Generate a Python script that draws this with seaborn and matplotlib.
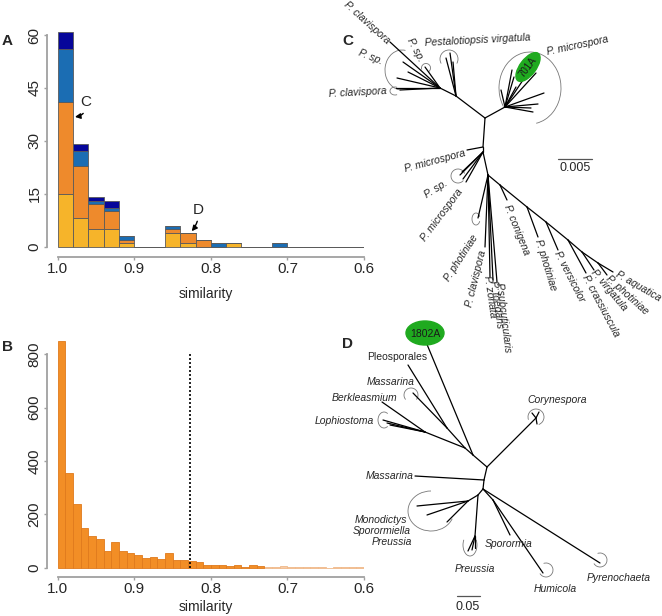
import numpy as np
import pandas as pd
import matplotlib.pyplot as plt
import seaborn as sns
from matplotlib.patches import Arc, Ellipse

sns.set_style("ticks")
plt.rcParams['font.family'] = ['Liberation Sans', 'DejaVu Sans']

# ---------------- panel A: stacked counts, 0.02 wide bins (1.00 -> 0.70)
sim_a = [0.99, 0.97, 0.95, 0.93, 0.91, 0.89, 0.87, 0.85, 0.83, 0.81, 0.79, 0.77, 0.75, 0.73, 0.71]
yellow_a = [15, 8, 5, 5, 1, 0, 0, 4, 1, 0, 0, 1, 0, 0, 0]
orange_a = [26, 15, 7, 5, 1, 0, 0, 1, 3, 2, 0, 0, 0, 0, 0]
blue_a = [15, 4, 1, 1, 1, 0, 0, 1, 0, 0, 1, 0, 0, 0, 1]
navy_a = [5, 2, 1, 2, 0, 0, 0, 0, 0, 0, 0, 0, 0, 0, 0]
edges_a = np.linspace(0.6, 1.0, 21).tolist()

# ---------------- panel B: counts, 0.01 wide bins (1.00 -> 0.60)
sim_b = [0.995, 0.985, 0.975, 0.965, 0.955, 0.945, 0.935, 0.925, 0.915, 0.905,
         0.895, 0.885, 0.875, 0.865, 0.855, 0.845, 0.835, 0.825, 0.815, 0.805,
         0.795, 0.785, 0.775, 0.765, 0.755, 0.745, 0.735, 0.725, 0.715, 0.705,
         0.695, 0.685, 0.675, 0.665, 0.655, 0.645, 0.635, 0.625, 0.615, 0.605]
count_b = [851, 355, 237, 149, 120, 109, 62, 96, 62, 55,
           47, 36, 40, 32, 55, 29, 30, 25, 22, 11,
           12, 12, 7, 9, 4, 10, 6, 2, 2, 6,
           3, 1, 2, 1, 1, 0, 1, 1, 1, 2]
edges_b = np.linspace(0.6, 1.0, 41).tolist()
cutoff_b = 0.827
faded_below = 0.73   # tail of panel B is printed in a pale tone

x_ticks = [1.0, 0.9, 0.8, 0.7, 0.6]
x_ticklabels = ['1.0', '0.9', '0.8', '0.7', '0.6']

group_colors = {'yellow': '#F6B42A', 'orange': '#EE8A2C', 'blue': '#1B6DB3', 'navy': '#06069A'}

df_a = pd.DataFrame({
    'sim': sim_a * 4,
    'count': yellow_a + orange_a + blue_a + navy_a,
    'group': ['yellow'] * 15 + ['orange'] * 15 + ['blue'] * 15 + ['navy'] * 15,
})
df_b = pd.DataFrame({'sim': sim_b, 'count': count_b})

fig = plt.figure(figsize=(6.62, 6.16), dpi=100)

# tree canvas in pixel units (drawn under the histograms)
ax_t = fig.add_axes([0, 0, 1, 1], zorder=0)
ax_t.set_xlim(0, 662)
ax_t.set_ylim(616, 0)
ax_t.axis('off')

ax_a = fig.add_axes([47 / 662, (616 - 256.7) / 616, 317 / 662, 228.7 / 616], zorder=1)
ax_b = fig.add_axes([47 / 662, (616 - 576.7) / 616, 317 / 662, 239.7 / 616], zorder=1)

sns.histplot(data=df_a, x='sim', weights='count', hue='group',
             hue_order=['navy', 'blue', 'orange', 'yellow'], palette=group_colors,
             multiple='stack', bins=edges_a, alpha=1, edgecolor='#5a5a5a',
             linewidth=0.6, legend=False, ax=ax_a)
sns.histplot(data=df_b, x='sim', weights='count', bins=edges_b, color='#F28E26',
             alpha=1, edgecolor='#E07A1C', linewidth=0.6, ax=ax_b)
for patch in ax_b.patches:
    if patch.get_x() + patch.get_width() <= faded_below + 1e-9:
        patch.set_facecolor('#F6CBA8')
        patch.set_edgecolor('#F0B888')
ax_b.vlines(cutoff_b, 0, 800, colors='black', linestyles=(0, (1.2, 1.2)), lw=1.2)

for ax, ylim, yt, lp in [(ax_a, (-2.83, 62), [0, 15, 30, 45, 60], 8),
                         (ax_b, (-33.7, 865), [0, 200, 400, 600, 800], 3)]:
    ax.set_facecolor('none')
    ax.set_xlim(1.014, 0.6)
    ax.set_ylim(*ylim)
    ax.set_xticks(x_ticks)
    ax.set_xticklabels(x_ticklabels)
    ax.set_yticks(yt)
    ax.set_yticklabels([str(v) for v in yt], rotation=90, va='center')
    ax.spines['top'].set_visible(False)
    ax.spines['right'].set_visible(False)
    for s in ['left', 'bottom']:
        ax.spines[s].set_color('#a0a0a0')
        ax.spines[s].set_linewidth(1.3)
    ax.spines['left'].set_bounds(yt[0], yt[-1])
    ax.spines['bottom'].set_bounds(0.6, 1.0)
    ax.tick_params(length=2.5, width=1, color='#a0a0a0', labelsize=11, pad=1.5)
    ax.set_xlabel('similarity', fontsize=10, labelpad=lp)
    ax.set_ylabel('')

# arrows pointing at the two example clusters
ax_a.annotate('C', xy=(0.9775, 36.8), xytext=(0.963, 41), fontsize=11,
              ha='center', va='center',
              arrowprops=dict(arrowstyle='-|>', color='black', lw=1,
                              mutation_scale=8, shrinkA=1, shrinkB=0,
                              connectionstyle='arc3,rad=-0.5'))
ax_a.annotate('D', xy=(0.825, 4.4), xytext=(0.816, 10.5), fontsize=11,
              ha='center', va='center',
              arrowprops=dict(arrowstyle='-|>', color='black', lw=1,
                              mutation_scale=8, shrinkA=1, shrinkB=0,
                              connectionstyle='arc3,rad=-0.2'))

# ---------------- tree C (unrooted, pixel layout)
c_nodes = {
    'root': (485, 118), 'ul': (456, 96), 'ul2': (440, 88),
    'pv1': (450, 53), 'pv2': (446, 58), 'pv3': (453, 62),
    'clav1': (390, 42), 'sp1': (425, 67), 'sp2a': (403, 62), 'sp2b': (397, 78),
    'sp2c': (408, 72), 'clav2': (400, 90), 'clav2b': (396, 88),
    'mic': (505, 107), 'm1': (536, 73), 'm2': (523, 80), 'm3': (516, 87),
    'm4': (514, 77), 'm5': (544, 93), 'm6': (531, 108), 'm7': (533, 112),
    'm8': (512, 70), 'm9': (501, 90), 'm10': (538, 104),
    'd1': (483, 147), 'mic2': (467, 150), 'd2': (483, 152),
    'sp3a': (460, 175), 'sp3b': (462, 172), 'sp3c': (463, 179), 'sp3d': (466, 182),
    'd3': (488, 175), 'pho1': (478, 218), 'cla3': (485, 247),
    'zon': (490, 277), 'foe': (493, 280), 'sub': (497, 282),
    'b1': (500, 185), 'con': (507, 200), 'b2': (527, 207), 'pho2': (538, 237),
    'b3': (546, 222), 'ver': (558, 250), 'b4': (568, 240), 'cra': (586, 273),
    'b5': (582, 252), 'vir': (594, 270), 'b6': (598, 263), 'pho3': (607, 275),
    'aqu': (613, 272),
}
c_edges = [
    ('root', 'ul'), ('ul', 'ul2'), ('ul', 'pv1'), ('ul', 'pv2'), ('ul', 'pv3'),
    ('ul2', 'clav1'), ('ul2', 'sp1'), ('ul2', 'sp2a'), ('ul2', 'sp2b'), ('ul2', 'sp2c'),
    ('ul2', 'clav2'), ('ul2', 'clav2b'),
    ('root', 'mic'), ('mic', 'm1'), ('mic', 'm2'), ('mic', 'm3'), ('mic', 'm4'),
    ('mic', 'm5'), ('mic', 'm6'), ('mic', 'm7'), ('mic', 'm8'), ('mic', 'm9'), ('mic', 'm10'),
    ('root', 'd1'), ('d1', 'mic2'), ('d1', 'd2'),
    ('d2', 'sp3a'), ('d2', 'sp3b'), ('d2', 'sp3c'), ('d2', 'sp3d'), ('d2', 'd3'),
    ('d3', 'pho1'), ('d3', 'cla3'), ('d3', 'zon'), ('d3', 'foe'), ('d3', 'sub'),
    ('d3', 'b1'), ('b1', 'con'), ('b1', 'b2'), ('b2', 'pho2'), ('b2', 'b3'),
    ('b3', 'ver'), ('b3', 'b4'), ('b4', 'cra'), ('b4', 'b5'), ('b5', 'vir'),
    ('b5', 'b6'), ('b6', 'pho3'), ('b6', 'aqu'),
]
c_labels = [
    ('P. clavispora', 388, 42, -42, 'right'),
    ('P. sp.', 421, 61, -62, 'right'),
    ('P. sp.', 382, 62, -22, 'right'),
    ('P. clavispora', 387, 91, 3, 'right'),
    ('Pestalotiopsis virgatula', 425, 43, 3, 'left'),
    ('P. microspora', 547, 52, 12, 'left'),
    ('P. microspora', 465, 153, 15, 'right'),
    ('P. sp.', 447, 182, 32, 'right'),
    ('P. microspora', 461, 190, 53, 'right'),
    ('P. photiniae', 476, 236, 57, 'right'),
    ('P. clavispora', 483, 251, 76, 'right'),
    ('P. zonata', 487, 276, -82, 'left'),
    ('P. foedans', 493, 281, -82, 'left'),
    ('P.subcuticularis', 499, 283, -83, 'left'),
    ('P. conigena', 507, 205, -68, 'left'),
    ('P. photiniae', 538, 240, -73, 'left'),
    ('P. versicolor', 557, 252, -63, 'left'),
    ('P. crassiuscula', 585, 276, -62, 'left'),
    ('P. virgatula', 593, 271, -50, 'left'),
    ('P. photiniae', 607, 277, -42, 'left'),
    ('P. aquatica', 616, 274, -30, 'left'),
]
# clade brackets: centre x, centre y, width, height, visual start/end angle
c_brackets = [
    (449, 59, 18, 18, -30, 210), (426, 68, 9, 9, -60, 200),
    (402, 70, 34, 40, 80, 265), (395, 91, 10, 8, 60, 300),
    (530, 88, 62, 72, -80, 215), (458, 176, 14, 14, 20, 320),
    (476, 219, 8, 12, 30, 330),
]

# ---------------- tree D
d_nodes = {
    'c': (487, 467), 'a': (473, 455), 'b': (465, 448), 'dd': (447, 428), 'e': (425, 432),
    'iso': (426, 342), 'pleo': (408, 365), 'mass': (413, 393), 'berk': (382, 402),
    'l1': (383, 420), 'l2': (387, 423), 'l3': (390, 425),
    'cory': (536, 418), 'cy1': (532, 413), 'cy2': (539, 412), 'cy3': (537, 424),
    'm': (484, 480), 'mass2': (415, 476), 'lo': (483, 489),
    'p': (478, 495), 'q': (468, 501), 'mo1': (417, 506), 'mo2': (427, 515), 'mo3': (447, 522),
    'pre': (475, 536), 'pr1': (468, 551), 'pr2': (472, 550), 'pr3': (475, 548),
    's': (493, 500), 'spo': (510, 535), 'hum': (543, 573), 'pyr': (600, 563),
}
d_edges = [
    ('c', 'a'), ('a', 'iso'), ('a', 'b'), ('b', 'dd'), ('b', 'e'),
    ('dd', 'pleo'), ('dd', 'mass'), ('e', 'berk'), ('e', 'l1'), ('e', 'l2'), ('e', 'l3'),
    ('c', 'cory'), ('cory', 'cy1'), ('cory', 'cy2'), ('cory', 'cy3'),
    ('c', 'm'), ('m', 'mass2'), ('m', 'lo'), ('lo', 'p'), ('p', 'q'),
    ('q', 'mo1'), ('q', 'mo2'), ('q', 'mo3'), ('p', 'pre'),
    ('pre', 'pr1'), ('pre', 'pr2'), ('pre', 'pr3'),
    ('lo', 's'), ('s', 'spo'), ('s', 'hum'), ('lo', 'pyr'),
]
d_labels = [
    ('Pleosporales', 397, 357, 'center', 'normal'),
    ('Massarina', 391, 382, 'center', 'italic'),
    ('Berkleasmium', 397, 398, 'right', 'italic'),
    ('Lophiostoma', 374, 421, 'right', 'italic'),
    ('Corynespora', 557, 400, 'center', 'italic'),
    ('Massarina', 414, 476, 'right', 'italic'),
    ('Monodictys', 407, 520, 'right', 'italic'),
    ('Sporormiella', 411, 531, 'right', 'italic'),
    ('Preussia', 412, 542, 'right', 'italic'),
    ('Sporormia', 485, 544, 'left', 'italic'),
    ('Preussia', 475, 569, 'center', 'italic'),
    ('Humicola', 555, 589, 'center', 'italic'),
    ('Pyrenochaeta', 619, 578, 'center', 'italic'),
]
d_brackets = [
    (411, 395, 14, 14, -40, 220), (384, 420, 12, 16, 60, 300),
    (536, 417, 16, 16, -70, 200), (431, 511, 46, 40, 90, 340),
    (470, 545, 14, 22, 140, 400), (546, 570, 14, 14, -150, 110),
    (600, 560, 14, 14, -150, 110),
]


def draw_tree(nodes, edges, brackets):
    for a, b in edges:
        (x0, y0), (x1, y1) = nodes[a], nodes[b]
        ax_t.plot([x0, x1], [y0, y1], color='black', lw=0.9, solid_capstyle='round')
    for cx, cy, w, h, v1, v2 in brackets:
        ax_t.add_patch(Arc((cx, cy), w, h, theta1=-v2, theta2=-v1,
                           color='#777777', lw=0.6))


draw_tree(c_nodes, c_edges, c_brackets)
draw_tree(d_nodes, d_edges, d_brackets)

for txt, x, y, rot, ha in c_labels:
    ax_t.text(x, y, txt, rotation=rot, ha=ha, va='center', rotation_mode='anchor',
              fontsize=7.5, style='italic', clip_on=False)
for txt, x, y, ha, st in d_labels:
    ax_t.text(x, y, txt, ha=ha, va='center', fontsize=7.5, style=st)

# highlighted isolates
ax_t.add_patch(Ellipse((528, 67), 34, 16, angle=-53, color='#1FAA1F', zorder=3))
ax_t.text(528, 67, '701A', rotation=53, ha='center', va='center', fontsize=7,
          color='#1a1a1a', zorder=4)
ax_t.add_patch(Ellipse((425, 333), 38, 24, color='#1FAA1F', zorder=3))
ax_t.text(425, 334, '1802A', ha='center', va='center', fontsize=7.5,
          color='#1a1a1a', zorder=4)

# scale bars
ax_t.plot([558, 592], [159, 159], color='#555555', lw=0.9)
ax_t.text(575, 168, '0.005', ha='center', va='center', fontsize=9)
ax_t.plot([457, 480], [596, 596], color='#555555', lw=0.9)
ax_t.text(468, 607, '0.05', ha='center', va='center', fontsize=9)

# panel letters
for letter, x, y in [('A', 2, 41), ('B', 2, 347), ('C', 342, 41), ('D', 342, 344)]:
    ax_t.text(x, y, letter, fontsize=11, fontweight='bold', ha='left', va='center')

plt.savefig('out.png', dpi=100)
